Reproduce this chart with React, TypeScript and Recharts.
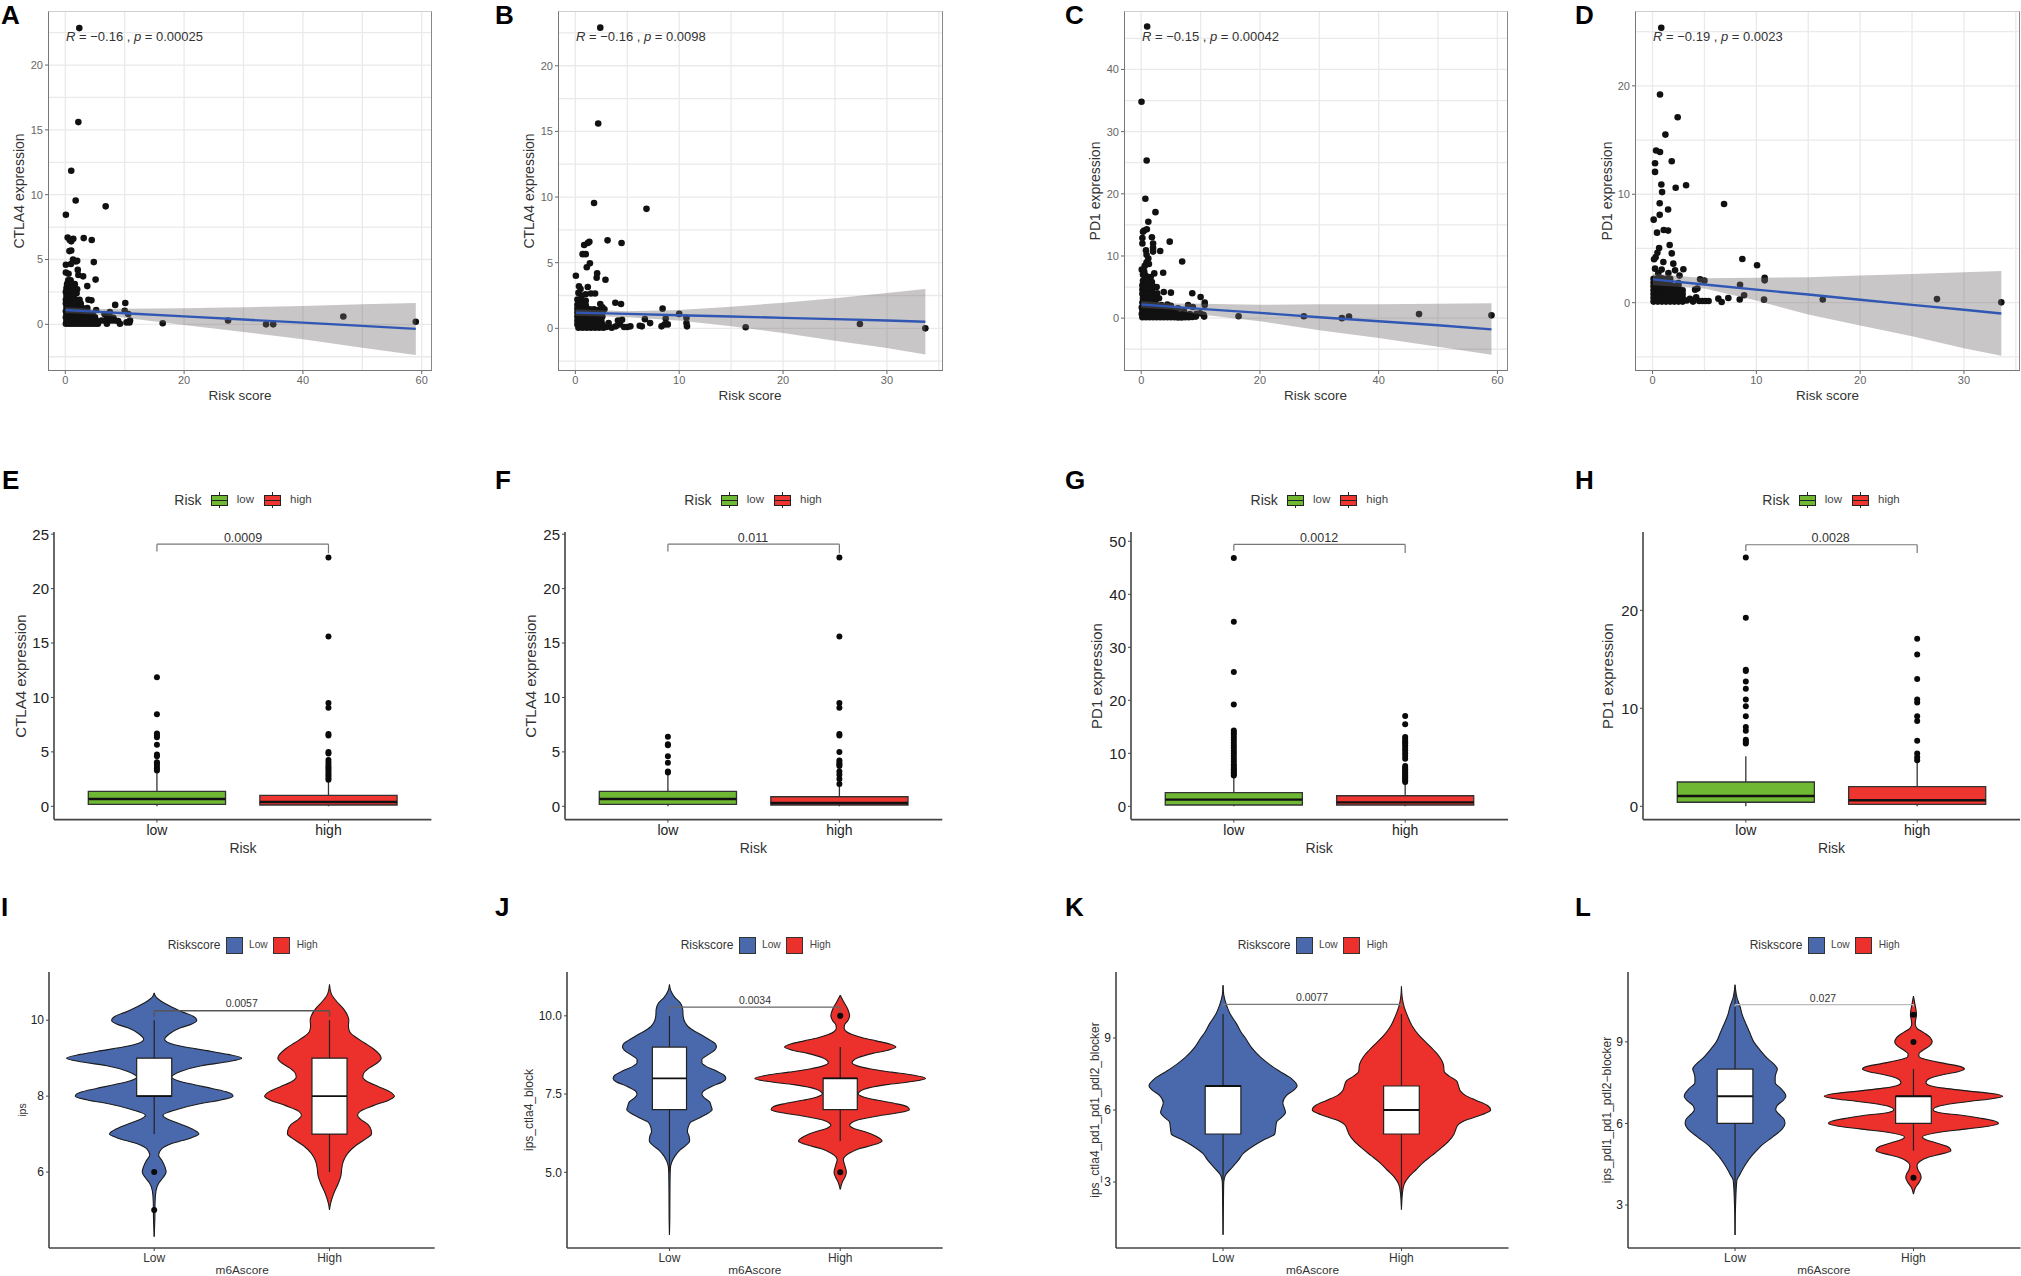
import React from 'react';
import {
  ComposedChart,
  CartesianGrid,
  XAxis,
  YAxis,
  Scatter,
  Area,
  Line,
  ReferenceArea,
  ReferenceLine,
} from 'recharts';

type Pair = [number, number];

const FONT = '"Liberation Sans", Arial, sans-serif';

// scatter values: [risk score, expression]
const pointsA: Pair[] = [
  [2.36, 22.85], [2.2, 15.6], [1, 11.85], [1.75, 9.55], [6.8, 9.1], [0.1, 8.45],
  [0.4, 6.7], [1, 6.4], [1.35, 6.6], [0.75, 6.5], [3.1, 6.65], [4.45, 6.5],
  [0.7, 5.65], [1, 5.7], [1.3, 5], [1.8, 4.85], [4.8, 4.8], [0.1, 4.6], [0.95, 4.65], [2, 4.9],
  [2.1, 4.2], [0.1, 4], [0.55, 3.9], [2.2, 3.8], [3, 3.7], [5.1, 3.45], [3.7, 2.95],
  [0.5, 3.4], [0.9, 3.4], [0.3, 3.1], [0.7, 3.1], [1.1, 3.1], [1.6, 3.1],
  [0.2, 2.8], [0.6, 2.8], [1, 2.8], [1.5, 2.8], [2, 2.7],
  [0.1, 2.5], [0.5, 2.5], [0.9, 2.5], [1.3, 2.5], [1.9, 2.4],
  [0.2, 2.2], [0.6, 2.2], [1, 2.2], [1.4, 2.2],
  [0.1, 1.9], [0.5, 1.9], [0.9, 1.9], [1.3, 1.9], [1.8, 1.9], [2.4, 1.9], [3.9, 1.9], [4.4, 1.85],
  [0.1, 1.6], [0.5, 1.6], [0.9, 1.6], [1.3, 1.6], [1.7, 1.6], [2.1, 1.6], [2.6, 1.6],
  [0.2, 1.3], [0.6, 1.3], [1, 1.3], [1.4, 1.3], [1.8, 1.3], [2.2, 1.3], [2.8, 1.3], [3.7, 1.25],
  [0.1, 1], [0.5, 1], [0.9, 1], [1.3, 1], [1.7, 1], [2.1, 1], [2.5, 1], [2.9, 1], [3.3, 1], [3.7, 1], [5.2, 1.1],
  [0.2, 0.8], [0.7, 0.8], [1.2, 0.8], [1.7, 0.8], [2.2, 0.8], [2.7, 0.8], [3.2, 0.8], [3.7, 0.8], [4.2, 0.8], [4.6, 0.8], [6.6, 0.8],
  [0.1, 0.55], [0.6, 0.55], [1.1, 0.55], [1.6, 0.55], [2.1, 0.55], [2.6, 0.55], [3.1, 0.55], [3.6, 0.55], [4.1, 0.55], [4.6, 0.55], [5, 0.55], [7.1, 0.55], [7.6, 0.55], [8.1, 0.5],
  [0.2, 0.3], [0.7, 0.3], [1.2, 0.3], [1.7, 0.3], [2.2, 0.3], [2.7, 0.3], [3.2, 0.3], [3.7, 0.3], [4.2, 0.3], [4.7, 0.3], [5.2, 0.3], [6.1, 0.3], [6.6, 0.3], [7.4, 0.3], [7.9, 0.3], [8.4, 0.3], [8.9, 0.25],
  [0.1, 0.05], [0.6, 0.05], [1.1, 0.05], [1.6, 0.05], [2.1, 0.05], [2.6, 0.05], [3.1, 0.05], [3.6, 0.05], [4.1, 0.05], [4.6, 0.05], [5.1, 0.05], [5.5, 0.05], [7, 0.05], [9.2, 0.05],
  [7.5, 0.95], [8.4, 1.5], [10.1, 1.65], [10, 1.05], [10.6, 0.8], [10.3, 0.15], [10.8, 0.15], [10.9, 0.3],
  [16.4, 0.08], [27.4, 0.3], [33.8, 0], [35, 0], [46.8, 0.6], [59, 0.2],
];

const pointsB: Pair[] = [
  [2.4, 22.9], [2.2, 15.6], [1.8, 9.55], [6.85, 9.1], [1.35, 6.6], [1.2, 6.5], [0.85, 6.35], [3.1, 6.7], [4.45, 6.5],
  [0.7, 5.65], [1, 5.65], [1.1, 4.65], [1.4, 4.95], [2.1, 4.2], [2.05, 3.85], [0.05, 4], [2.9, 3.7],
  [0.35, 3.2], [1.2, 3.15], [0.5, 3], [0.3, 2.7], [1, 2.6], [1.5, 2.65], [1.9, 2.65], [0.6, 2.5],
  [3.85, 1.95], [4.4, 1.85], [2.4, 1.85], [2.6, 1.6], [0.2, 2.2], [0.6, 2.2], [1, 2.1],
  [0.2, 1.8], [0.6, 1.8], [1, 1.75], [0.2, 1.5], [0.6, 1.5], [1, 1.5], [1.4, 1.45], [1.8, 1.45], [2.2, 1.4], [2.8, 1.45],
  [0.2, 1.2], [0.6, 1.2], [1, 1.2], [1.4, 1.2], [1.8, 1.2], [2.2, 1.2], [2.6, 1.2],
  [0.2, 0.9], [0.6, 0.9], [1, 0.9], [1.4, 0.9], [1.8, 0.9], [2.2, 0.9], [2.6, 0.9],
  [0.2, 0.6], [0.6, 0.6], [1, 0.6], [1.4, 0.6], [1.8, 0.6], [2.2, 0.6], [2.5, 0.6],
  [0.2, 0.3], [0.6, 0.3], [1, 0.3], [1.4, 0.3], [1.8, 0.3], [2.2, 0.3], [2.6, 0.3],
  [0.3, 0.05], [0.7, 0.05], [1.1, 0.05], [1.5, 0.05], [1.9, 0.05], [2.3, 0.05], [2.7, 0.05],
  [3, 0.1], [3.2, 0.4], [3.5, 0.05], [3.9, 0.15], [4.3, 0.3], [4.5, 0.65], [4.1, 0.6], [4.7, 0.1], [5, 0.1], [5.3, 0.15],
  [6.2, 0.2], [6.4, 0.15], [6.7, 0.7], [7.2, 0.4], [8.3, 0.15], [8.4, 1.5], [8.6, 0.3], [8.7, 0.75], [8.9, 0.3],
  [10, 1.1], [10.7, 0.4], [10.75, 0.15], [10.7, 0.8], [16.4, 0.08], [27.4, 0.33], [33.7, 0],
];

const pointsC: Pair[] = [
  [1, 46.9], [0.05, 34.8], [0.92, 25.36], [0.7, 19.2], [2.4, 17.05], [1.2, 15.5],
  [0.5, 14.1], [0.95, 14.3], [0.3, 13.9], [0.2, 12.9], [1.8, 13], [4.8, 12.3], [0.2, 12], [2, 12], [2, 11.3],
  [0.8, 10.9], [2, 10.7], [3.2, 10.8], [0.9, 10.2], [1.2, 9.6], [0.9, 9], [6.9, 9.1], [1.3, 8.7], [0.6, 8.4],
  [0.1, 7.8], [0.5, 7.5], [3.7, 7.3], [2.2, 7.2], [0.3, 7], [0.7, 6.9], [1.1, 6.6], [1.6, 6.6],
  [0.3, 6], [0.8, 6], [1.4, 6], [1.8, 5.8], [0.2, 5.3], [0.7, 5.2], [1.2, 5.3], [1.9, 5.2], [2.6, 5],
  [0.2, 4.6], [0.7, 4.5], [1.2, 4.6], [1.8, 4.5], [0.2, 3.9], [0.7, 3.8], [1.2, 3.9], [1.9, 3.9], [2.7, 4],
  [3.8, 4.2], [5, 4.1], [8.6, 4], [10, 3.4], [0.3, 3.2], [0.8, 3.2], [1.3, 3.2], [1.8, 3.2], [2.4, 3.1], [3, 3.2],
  [0.2, 2.5], [0.7, 2.6], [1.2, 2.6], [1.8, 2.6], [2.4, 2.5], [10.7, 2.5], [10.7, 2.1], [3.4, 2.1], [4.4, 2.2], [5, 2], [7.9, 2.1], [8.7, 1.8], [6.2, 1.6],
  [0.1, 1.7], [0.7, 1.7], [1.3, 1.7], [1.9, 1.7], [2.5, 1.7], [3.1, 1.7], [3.7, 1.6], [4.3, 1.55], [5.1, 1.5],
  [0.2, 1.15], [0.8, 1.15], [1.4, 1.15], [2, 1.15], [2.6, 1.15], [3.2, 1.15], [3.8, 1.15], [4.4, 1.1], [5, 1.1], [5.6, 1.05], [7.2, 1.15],
  [0.1, 0.65], [0.7, 0.65], [1.3, 0.65], [1.9, 0.65], [2.5, 0.65], [3.1, 0.65], [3.7, 0.65], [4.3, 0.65], [4.9, 0.65], [5.5, 0.65], [6.1, 0.6], [6.7, 0.6], [7.3, 0.6], [8.2, 0.65], [9.3, 0.7], [9.9, 0.8], [10.5, 0.55],
  [0.2, 0.15], [0.8, 0.15], [1.4, 0.15], [2, 0.15], [2.6, 0.15], [3.2, 0.15], [3.8, 0.15], [4.4, 0.15], [5, 0.15], [5.6, 0.15], [6.2, 0.1], [6.8, 0.1], [7.4, 0.15], [8, 0.15], [8.6, 0.2], [9.2, 0.25], [10.6, 0.25],
  [16.4, 0.3], [27.4, 0.3], [33.8, 0], [35, 0.25], [46.8, 0.65], [59, 0.45],
];

const pointsD: Pair[] = [
  [0.84, 25.36], [0.72, 19.2], [2.42, 17.1], [1.24, 15.5], [0.34, 14.03], [0.72, 13.9], [1.85, 13.05], [0.24, 12.86], [0.24, 12.06],
  [0.85, 10.9], [3.23, 10.83], [2.23, 10.6], [0.92, 10.2], [6.89, 9.1], [0.69, 9.17], [1.5, 8.6], [0.69, 8.1], [0.11, 7.66],
  [1.08, 6.7], [1.5, 6.65], [0.43, 6.46], [0.63, 5.05], [1.65, 5.32], [0.3, 4.2], [1.85, 4.55], [0.47, 4.6], [0.15, 4],
  [8.65, 4.03], [10.07, 3.45], [10.8, 2.3], [10.8, 2.06], [1.04, 3.75], [2, 3.6], [0.24, 3.14], [0.88, 3.05], [2.97, 3.08], [2.17, 2.98], [2.6, 2.5], [1.53, 2.74], [0.55, 2.7],
  [4.58, 2.15], [5, 2.03], [4.32, 1.3], [4.1, 1.2], [8.43, 1.66], [8.82, 0.68], [8.4, 0.3], [10.74, 0.28], [7.3, 0.43], [6.34, 0.37], [6.66, 0.06],
  [0.1, 2.2], [0.5, 2.2], [0.9, 2.25], [1.3, 2.2], [1.7, 2.2],
  [0.1, 1.85], [0.5, 1.85], [0.9, 1.85], [1.3, 1.85], [1.7, 1.85], [2.5, 1.8],
  [0.1, 1.5], [0.5, 1.5], [0.9, 1.5], [1.3, 1.5], [1.7, 1.5], [2.1, 1.5], [2.5, 1.5],
  [0.1, 1.15], [0.5, 1.15], [0.9, 1.15], [1.3, 1.15], [1.7, 1.15], [2.1, 1.15], [2.5, 1.15], [2.9, 1.15],
  [0.1, 0.8], [0.5, 0.8], [0.9, 0.8], [1.3, 0.8], [1.7, 0.8], [2.1, 0.8], [2.5, 0.8], [2.9, 0.8],
  [0.1, 0.45], [0.5, 0.45], [0.9, 0.45], [1.3, 0.45], [1.7, 0.45], [2.1, 0.45], [2.5, 0.45], [2.9, 0.45],
  [0.1, 0.1], [0.5, 0.1], [0.9, 0.1], [1.3, 0.1], [1.7, 0.1], [2.1, 0.1], [2.5, 0.1], [2.9, 0.1],
  [3.3, 0.2], [3.6, 0.35], [3.9, 0.1], [4.2, 0.5], [4.5, 0.15], [4.8, 0.15], [5.1, 0.15], [5.4, 0.15],
  [16.4, 0.3], [27.4, 0.33], [33.6, 0.03],
];

// smooth fit rows: [x, lower, upper, fit]
const fitA = [[0.04, 0.88, 1.32, 1.1], [5, 0.76, 1.19, 0.98], [10, 0.5, 1.2, 0.85], [20, -0.05, 1.25, 0.61], [30, -0.6, 1.32, 0.37], [40, -1.15, 1.42, 0.13], [50, -1.8, 1.55, -0.12], [59, -2.36, 1.65, -0.35]];
const fitB = [[0.04, 0.95, 1.45, 1.2], [5, 0.85, 1.3, 1.1], [10, 0.6, 1.4, 1], [15, 0.15, 1.65, 0.9], [20, -0.35, 1.95, 0.8], [25, -0.95, 2.3, 0.7], [30, -1.5, 2.7, 0.6], [33.7, -2, 3, 0.5]];
const fitC = [[0.04, 1.65, 2.75, 2.2], [5, 1.4, 2.35, 1.85], [10, 0.6, 2.3, 1.5], [20, -0.5, 2.15, 0.85], [30, -1.95, 2.25, 0.15], [40, -3.2, 2.25, -0.5], [50, -4.6, 2.3, -1.15], [59, -5.9, 2.4, -1.8]];
const fitD = [[0.04, 1.6, 2.7, 2.15], [5, 1.3, 2.25, 1.68], [10, 0.2, 2.3, 1.2], [15, -1.1, 2.35, 0.75], [20, -2.1, 2.5, 0.27], [25, -3.1, 2.65, -0.2], [30, -4.2, 2.8, -0.65], [33.6, -4.9, 2.92, -1]];

// box plot summaries
const boxE = [{ x: 1, q1: 0.18, med: 0.67, q3: 1.38, lo: 0, hi: 3.2 }, { x: 2, q1: 0.12, med: 0.4, q3: 1, lo: 0, hi: 2.4 }];
const boxF = [{ x: 1, q1: 0.18, med: 0.67, q3: 1.38, lo: 0, hi: 3 }, { x: 2, q1: 0.12, med: 0.3, q3: 0.88, lo: 0, hi: 2 }];
const boxG = [{ x: 1, q1: 0.25, med: 1.26, q3: 2.58, lo: 0, hi: 5.5 }, { x: 2, q1: 0.25, med: 0.75, q3: 2, lo: 0, hi: 4.4 }];
const boxH = [{ x: 1, q1: 0.41, med: 1.05, q3: 2.48, lo: 0, hi: 5.1 }, { x: 2, q1: 0.2, med: 0.61, q3: 2, lo: 0, hi: 4.9 }];

const outE = [
  [11.85, 8.45, 6.7, 6.5, 6.35, 5.65, 4.75, 4.6, 4.05, 3.9, 3.7, 3.5, 3.3],
  [22.85, 15.6, 9.5, 9.05, 6.65, 6.5, 5, 4.85, 4.25, 4, 3.8, 3.6, 3.4, 3.2, 3, 2.8, 2.6, 2.45],
];
const outF = [
  [6.4, 5.7, 5.6, 4.6, 4, 3.2, 3.1],
  [22.85, 15.6, 9.5, 9.05, 6.65, 6.5, 5, 4.2, 4, 3.85, 3.7, 3.2, 2.9, 2.5, 2.05],
];
const outG = [
  [46.85, 34.8, 25.35, 19.2, 14.3, 13.9, 13.5, 13, 12.5, 12, 11.5, 11, 10.5, 10, 9.5, 9, 8.5, 8, 7.7, 7.3, 7, 6.7, 6.4, 6.1, 5.8],
  [17.05, 15.5, 13.1, 12.7, 12.3, 11.9, 11.5, 11, 10.6, 10, 9.5, 9, 7.6, 7.3, 7, 6.7, 6.4, 6.1, 5.8, 5.5, 5.2, 4.9, 4.6],
];
const outH = [
  [25.4, 19.25, 13.95, 13.8, 12.75, 12, 10.9, 10.2, 9.2, 8.1, 7.7, 6.8, 6.6, 6.4],
  [17.1, 15.5, 13, 10.9, 10.6, 9.2, 8.7, 6.7, 5.4, 5, 4.7],
];

// violin outlines: [value, half width on the group axis]
const violinILow: Pair[] = [[10.72, 0], [10.6, 0.012], [10.5, 0.04], [10.35, 0.1], [10.2, 0.17], [10.1, 0.225], [10, 0.243], [9.9, 0.215], [9.8, 0.15], [9.65, 0.09], [9.5, 0.06], [9.4, 0.085], [9.3, 0.17], [9.2, 0.3], [9.1, 0.42], [9, 0.5], [8.9, 0.41], [8.8, 0.27], [8.65, 0.15], [8.5, 0.1], [8.4, 0.14], [8.3, 0.23], [8.2, 0.33], [8.1, 0.42], [8, 0.45], [7.9, 0.38], [7.8, 0.26], [7.65, 0.13], [7.5, 0.05], [7.4, 0.075], [7.3, 0.13], [7.15, 0.21], [7, 0.255], [6.9, 0.21], [6.75, 0.1], [6.6, 0.04], [6.45, 0.025], [6.3, 0.045], [6.15, 0.06], [6, 0.068], [5.85, 0.05], [5.7, 0.025], [5.5, 0.01], [5.2, 0.005], [4.8, 0.004], [4.3, 0]];
const violinIHigh: Pair[] = [[10.94, 0], [10.7, 0.01], [10.5, 0.04], [10.3, 0.08], [10.1, 0.105], [10, 0.11], [9.85, 0.108], [9.7, 0.115], [9.55, 0.15], [9.4, 0.2], [9.25, 0.25], [9.1, 0.285], [9, 0.295], [8.9, 0.28], [8.75, 0.23], [8.6, 0.195], [8.5, 0.19], [8.4, 0.21], [8.25, 0.28], [8.1, 0.35], [8, 0.37], [7.9, 0.34], [7.75, 0.25], [7.6, 0.175], [7.5, 0.16], [7.4, 0.175], [7.25, 0.22], [7.1, 0.238], [7, 0.24], [6.9, 0.215], [6.7, 0.15], [6.5, 0.105], [6.3, 0.08], [6.1, 0.07], [5.9, 0.065], [5.7, 0.05], [5.5, 0.03], [5.3, 0.014], [5.15, 0.005], [5, 0]];
const violinJLow: Pair[] = [[11, 0], [10.8, 0.008], [10.6, 0.03], [10.4, 0.065], [10.2, 0.078], [10, 0.08], [9.8, 0.09], [9.65, 0.11], [9.5, 0.15], [9.35, 0.2], [9.2, 0.245], [9.1, 0.27], [9, 0.275], [8.9, 0.265], [8.75, 0.225], [8.6, 0.19], [8.5, 0.19], [8.4, 0.21], [8.25, 0.27], [8.1, 0.32], [8, 0.33], [7.9, 0.315], [7.75, 0.25], [7.6, 0.2], [7.5, 0.19], [7.4, 0.2], [7.25, 0.235], [7.1, 0.245], [7, 0.25], [6.9, 0.23], [6.75, 0.18], [6.6, 0.125], [6.45, 0.11], [6.3, 0.105], [6.15, 0.115], [6, 0.118], [5.85, 0.095], [5.7, 0.06], [5.5, 0.03], [5.3, 0.012], [5.1, 0.005], [4.5, 0.003], [3.5, 0.002], [3, 0]];
const violinJHigh: Pair[] = [[10.66, 0], [10.45, 0.02], [10.2, 0.045], [10, 0.055], [9.85, 0.045], [9.7, 0.025], [9.6, 0.023], [9.5, 0.035], [9.4, 0.07], [9.3, 0.13], [9.2, 0.21], [9.1, 0.29], [9, 0.326], [8.9, 0.28], [8.8, 0.19], [8.65, 0.1], [8.5, 0.07], [8.4, 0.1], [8.3, 0.18], [8.2, 0.3], [8.1, 0.43], [8, 0.5], [7.9, 0.42], [7.8, 0.27], [7.65, 0.14], [7.5, 0.105], [7.4, 0.14], [7.3, 0.22], [7.2, 0.32], [7.1, 0.39], [7, 0.405], [6.9, 0.34], [6.8, 0.22], [6.65, 0.09], [6.5, 0.055], [6.4, 0.08], [6.3, 0.14], [6.15, 0.21], [6, 0.245], [5.9, 0.21], [5.75, 0.11], [5.6, 0.05], [5.4, 0.018], [5.25, 0.025], [5.1, 0.033], [5, 0.036], [4.85, 0.028], [4.7, 0.013], [4.45, 0]];
const violinKLow: Pair[] = [[11.2, 0], [10.8, 0.004], [10.4, 0.018], [10, 0.04], [9.6, 0.075], [9.2, 0.105], [9, 0.125], [8.6, 0.16], [8.2, 0.21], [7.9, 0.26], [7.6, 0.32], [7.3, 0.385], [7.1, 0.41], [7, 0.415], [6.85, 0.4], [6.6, 0.355], [6.3, 0.335], [6.05, 0.345], [5.9, 0.35], [5.7, 0.33], [5.5, 0.3], [5.25, 0.295], [5, 0.29], [4.8, 0.24], [4.5, 0.17], [4.2, 0.115], [3.9, 0.085], [3.6, 0.05], [3.3, 0.015], [3, 0.004], [2, 0.002], [0.8, 0]];
const violinKHigh: Pair[] = [[11.15, 0], [10.7, 0.004], [10.3, 0.015], [9.9, 0.035], [9.5, 0.06], [9.1, 0.1], [8.8, 0.14], [8.5, 0.18], [8.2, 0.215], [7.9, 0.235], [7.6, 0.24], [7.4, 0.27], [7.2, 0.31], [7, 0.32], [6.8, 0.33], [6.6, 0.36], [6.4, 0.42], [6.2, 0.48], [6, 0.5], [5.8, 0.45], [5.6, 0.37], [5.4, 0.32], [5.2, 0.305], [5, 0.295], [4.7, 0.265], [4.4, 0.22], [4.1, 0.17], [3.8, 0.12], [3.5, 0.08], [3.2, 0.04], [2.9, 0.015], [2.5, 0.005], [1.85, 0]];
const violinLLow: Pair[] = [[11.1, 0], [10.6, 0.012], [10.3, 0.028], [10, 0.04], [9.6, 0.065], [9.3, 0.085], [9, 0.105], [8.7, 0.14], [8.4, 0.18], [8.2, 0.215], [8, 0.237], [7.85, 0.23], [7.7, 0.225], [7.5, 0.225], [7.3, 0.255], [7.1, 0.28], [7, 0.285], [6.85, 0.27], [6.65, 0.235], [6.5, 0.228], [6.35, 0.245], [6.15, 0.275], [6, 0.28], [5.8, 0.265], [5.5, 0.21], [5.2, 0.15], [5, 0.12], [4.7, 0.08], [4.4, 0.05], [4.1, 0.025], [3.9, 0.01], [3, 0.003], [1.9, 0]];
const violinLHigh: Pair[] = [[10.68, 0], [10.4, 0.008], [10.1, 0.016], [10, 0.017], [9.8, 0.012], [9.65, 0.01], [9.5, 0.02], [9.35, 0.055], [9.15, 0.095], [9, 0.105], [8.85, 0.09], [8.7, 0.055], [8.55, 0.03], [8.45, 0.032], [8.35, 0.07], [8.2, 0.18], [8.1, 0.26], [8, 0.286], [7.9, 0.25], [7.8, 0.17], [7.65, 0.09], [7.5, 0.07], [7.4, 0.09], [7.3, 0.17], [7.2, 0.3], [7.1, 0.44], [7, 0.5], [6.9, 0.43], [6.8, 0.3], [6.65, 0.15], [6.5, 0.11], [6.4, 0.14], [6.3, 0.27], [6.2, 0.37], [6.1, 0.45], [6, 0.477], [5.9, 0.42], [5.8, 0.3], [5.65, 0.12], [5.5, 0.05], [5.4, 0.07], [5.3, 0.12], [5.15, 0.19], [5, 0.21], [4.9, 0.17], [4.75, 0.08], [4.6, 0.035], [4.45, 0.02], [4.3, 0.025], [4.15, 0.038], [4, 0.043], [3.85, 0.033], [3.65, 0.012], [3.4, 0]];

const ticksRisk60 = [0, 20, 40, 60];
const ticksRisk30 = [0, 10, 20, 30];
const gridRisk60 = [0, 10, 20, 30, 40, 50, 60];
const gridRisk30 = [0, 5, 10, 15, 20, 25, 30, 35];

function Txt({ x, y, size, rot, color = '#333', weight, align = 'center', style, children }: any) {
  const shift = align === 'left' ? 'translate(0,-50%)' : 'translate(-50%,-50%)';
  return (
    <div
      style={{
        position: 'absolute',
        left: x,
        top: y,
        fontSize: size,
        fontFamily: FONT,
        color,
        fontWeight: weight,
        whiteSpace: 'nowrap',
        lineHeight: 1.2,
        transform: rot ? `${shift} rotate(${rot}deg)` : shift,
        ...style,
      }}
    >
      {children}
    </div>
  );
}

function Dot({ cx, cy }: any) {
  return <circle cx={cx} cy={cy} r={3.3} fill="#111" />;
}

function SmallDot({ cx, cy }: any) {
  return <circle cx={cx} cy={cy} r={3} fill="#0a0a0a" />;
}

const W_AXIS = 44;
const H_AXIS = 34;

function ScatterPanel({ plot, xDomain, yDomain, xTicks, yTicks, xGrid, yGrid, points, fit, yLabel, stats, letter, letterX, labelX, titleX }: any) {
  const [L, T, R, B] = plot;
  const rows = points.map(([x, y]: Pair) => ({ x, y }));
  const ribbon = fit.map((f: number[]) => ({ x: f[0], band: [f[1], f[2]], fit: f[3] }));
  return (
    <>
      <div style={{ position: 'absolute', left: L - W_AXIS, top: T - 6 }}>
        <ComposedChart
          width={R - L + W_AXIS + 1}
          height={B - T + 6 + H_AXIS}
          margin={{ top: 6, right: 1, left: 0, bottom: 0 }}
        >
          <CartesianGrid stroke="#ece9e9" strokeWidth={1.3} verticalValues={xGrid} horizontalValues={yGrid} />
          <XAxis
            type="number"
            dataKey="x"
            domain={xDomain}
            ticks={xTicks}
            interval={0}
            allowDataOverflow
            height={H_AXIS}
            axisLine={false}
            tick={{ fontSize: 11, fill: '#666', fontFamily: FONT }}
            tickLine={{ stroke: '#666' }}
            tickSize={3}
          />
          <YAxis
            type="number"
            dataKey="y"
            domain={yDomain}
            ticks={yTicks}
            interval={0}
            allowDataOverflow
            width={W_AXIS}
            axisLine={false}
            tick={{ fontSize: 11, fill: '#666', fontFamily: FONT }}
            tickLine={{ stroke: '#666' }}
            tickSize={3}
          />
          <Scatter data={rows} isAnimationActive={false} shape={Dot} />
          <Area
            data={ribbon}
            dataKey="band"
            type="linear"
            stroke="none"
            fill="#6f6a6a"
            fillOpacity={0.38}
            isAnimationActive={false}
            dot={false}
            activeDot={false}
            zIndex={700}
          />
          <Line
            data={ribbon}
            dataKey="fit"
            type="linear"
            stroke="#3157b5"
            strokeWidth={2.4}
            dot={false}
            activeDot={false}
            isAnimationActive={false}
            zIndex={710}
          />
        </ComposedChart>
      </div>
      <div
        style={{
          position: 'absolute',
          left: L,
          top: T,
          width: R - L,
          height: B - T,
          boxSizing: 'border-box',
          borderLeft: '1.5px solid #777',
          borderBottom: '1.5px solid #777',
          borderRight: '1.5px solid #888',
          borderTop: '1.5px solid #d2cece',
        }}
      />
      <Txt x={L + 18} y={37} size={13} align="left" color="#333">
        {stats}
      </Txt>
      <Txt x={titleX} y={396} size={13.5} color="#333">Risk score</Txt>
      <Txt x={labelX} y={191} size={14} rot={-90} color="#333">{yLabel}</Txt>
      <Txt x={letterX} y={16} size={26} weight="bold" align="left" color="#000">{letter}</Txt>
    </>
  );
}

function BoxKey({ x, fill }: any) {
  return (
    <>
      <div style={{ position: 'absolute', left: x + 8, top: 492, width: 1, height: 16, background: '#222' }} />
      <div style={{ position: 'absolute', left: x, top: 494.5, width: 17, height: 11, boxSizing: 'border-box', background: fill, border: '1.3px solid #222' }} />
      <div style={{ position: 'absolute', left: x + 1, top: 499.5, width: 15, height: 1.2, background: '#222' }} />
    </>
  );
}

function BoxPanel({ plot, yDomain, yTicks, boxes, outliers, bracket, pValue, yLabel, letter, letterX, labelX, legendDx, pX }: any) {
  const [L, T, R, B] = plot;
  const fills = ['#6fb833', '#ee3530'];
  const dots = outliers.flatMap((vals: number[], i: number) => vals.map((y) => ({ x: i + 1, y })));
  return (
    <>
      <div style={{ position: 'absolute', left: L - W_AXIS, top: T - 6 }}>
        <ComposedChart
          width={R - L + W_AXIS + 1}
          height={B - T + 6 + H_AXIS}
          margin={{ top: 6, right: 1, left: 0, bottom: 0 }}
        >
          <XAxis
            type="number"
            dataKey="x"
            domain={[0.4, 2.6]}
            ticks={[1, 2]}
            interval={0}
            allowDataOverflow
            tickFormatter={(v: number) => (v === 1 ? 'low' : 'high')}
            height={H_AXIS}
            axisLine={{ stroke: '#444', strokeWidth: 1.6 }}
            tick={{ fontSize: 14, fill: '#222', fontFamily: FONT }}
            tickLine={{ stroke: '#444' }}
            tickSize={3}
          />
          <YAxis
            type="number"
            dataKey="y"
            domain={yDomain}
            ticks={yTicks}
            interval={0}
            allowDataOverflow
            width={W_AXIS}
            axisLine={{ stroke: '#444', strokeWidth: 1.6 }}
            tick={{ fontSize: 15, fill: '#222', fontFamily: FONT }}
            tickLine={{ stroke: '#444' }}
            tickSize={3}
          />
          {boxes.map((b: any, i: number) => (
            <ReferenceLine key={`wu${i}`} segment={[{ x: b.x, y: b.q3 }, { x: b.x, y: b.hi }]} stroke="#333" strokeWidth={1.3} />
          ))}
          {boxes.map((b: any, i: number) => (
            <ReferenceLine key={`wl${i}`} segment={[{ x: b.x, y: b.lo }, { x: b.x, y: b.q1 }]} stroke="#333" strokeWidth={1.3} />
          ))}
          {boxes.map((b: any, i: number) => (
            <ReferenceArea key={`b${i}`} x1={b.x - 0.4} x2={b.x + 0.4} y1={b.q1} y2={b.q3} fill={fills[i]} fillOpacity={1} stroke="#333" strokeWidth={1.3} />
          ))}
          {boxes.map((b: any, i: number) => (
            <ReferenceLine key={`m${i}`} segment={[{ x: b.x - 0.4, y: b.med }, { x: b.x + 0.4, y: b.med }]} stroke="#111" strokeWidth={2.4} />
          ))}
          <ReferenceLine segment={[{ x: 1, y: bracket[1] }, { x: 1, y: bracket[0] }]} stroke="#777" strokeWidth={1.2} />
          <ReferenceLine segment={[{ x: 1, y: bracket[0] }, { x: 2, y: bracket[0] }]} stroke="#777" strokeWidth={1.2} />
          <ReferenceLine segment={[{ x: 2, y: bracket[0] }, { x: 2, y: bracket[2] }]} stroke="#777" strokeWidth={1.2} />
          <Scatter data={dots} isAnimationActive={false} shape={SmallDot} />
        </ComposedChart>
      </div>
      <Txt x={pX} y={537.7} size={12.5} color="#333">{pValue}</Txt>
      <Txt x={(L + R) / 2} y={848} size={14} color="#333">Risk</Txt>
      <Txt x={labelX} y={676} size={15} rot={-90} color="#333">{yLabel}</Txt>
      <Txt x={letterX} y={481} size={26} weight="bold" align="left" color="#000">{letter}</Txt>
      <Txt x={174.3 + legendDx} y={500} size={14} align="left" color="#333">Risk</Txt>
      <BoxKey x={211 + legendDx} fill={fills[0]} />
      <Txt x={236.7 + legendDx} y={500} size={11.5} align="left" color="#444">low</Txt>
      <BoxKey x={264 + legendDx} fill={fills[1]} />
      <Txt x={290 + legendDx} y={500} size={11.5} align="left" color="#444">high</Txt>
    </>
  );
}

function ViolinPanel({ plot, yDomain, yTicks, yTickFmt, low, high, boxes, outliers, bracket, pValue, pX, pY, yLabel, letter, letterX, labelX, legendDx, bracketColor }: any) {
  const [L, T, R, B] = plot;
  const toRows = (outline: Pair[], center: number) =>
    outline.map(([y, w]) => ({ y, range: [center - w, center + w] }));
  const dots = outliers.map(([x, y]: Pair) => ({ x, y }));
  const blue = '#4a69ad';
  const red = '#ec302c';
  return (
    <>
      <div style={{ position: 'absolute', left: L - W_AXIS, top: T - 6 }}>
        <ComposedChart
          layout="vertical"
          width={R - L + W_AXIS + 1}
          height={B - T + 6 + H_AXIS}
          margin={{ top: 6, right: 1, left: 0, bottom: 0 }}
        >
          <XAxis
            type="number"
            dataKey="x"
            domain={[0.4, 2.6]}
            ticks={[1, 2]}
            interval={0}
            allowDataOverflow
            tickFormatter={(v: number) => (v === 1 ? 'Low' : 'High')}
            height={H_AXIS}
            axisLine={{ stroke: '#444', strokeWidth: 1.6 }}
            tick={{ fontSize: 12, fill: '#333', fontFamily: FONT }}
            tickLine={{ stroke: '#444' }}
            tickSize={3}
          />
          <YAxis
            type="number"
            dataKey="y"
            domain={yDomain}
            ticks={yTicks}
            interval={0}
            reversed
            allowDataOverflow
            tickFormatter={yTickFmt}
            width={W_AXIS}
            axisLine={{ stroke: '#444', strokeWidth: 1.6 }}
            tick={{ fontSize: 12, fill: '#222', fontFamily: FONT }}
            tickLine={{ stroke: '#444' }}
            tickSize={3}
          />
          <Area data={toRows(low, 1)} dataKey="range" type="monotone" stroke="#1a1a1a" strokeWidth={1.1} fill={blue} fillOpacity={1} isAnimationActive={false} dot={false} activeDot={false} />
          <Area data={toRows(high, 2)} dataKey="range" type="monotone" stroke="#1a1a1a" strokeWidth={1.1} fill={red} fillOpacity={1} isAnimationActive={false} dot={false} activeDot={false} />
          {boxes.map((b: any, i: number) => (
            <ReferenceLine key={`wu${i}`} segment={[{ x: b.x, y: b.q3 }, { x: b.x, y: b.hi }]} stroke="#222" strokeWidth={1.2} zIndex={150} />
          ))}
          {boxes.map((b: any, i: number) => (
            <ReferenceLine key={`wl${i}`} segment={[{ x: b.x, y: b.lo }, { x: b.x, y: b.q1 }]} stroke="#222" strokeWidth={1.2} zIndex={150} />
          ))}
          {boxes.map((b: any, i: number) => (
            <ReferenceArea key={`b${i}`} x1={b.x - 0.1} x2={b.x + 0.1} y1={b.q1} y2={b.q3} fill="#fff" fillOpacity={1} stroke="#222" strokeWidth={1.2} zIndex={160} />
          ))}
          {boxes.map((b: any, i: number) => (
            <ReferenceLine key={`m${i}`} segment={[{ x: b.x - 0.1, y: b.med }, { x: b.x + 0.1, y: b.med }]} stroke="#111" strokeWidth={1.8} zIndex={170} />
          ))}
          <ReferenceLine segment={[{ x: 1, y: bracket[1] }, { x: 1, y: bracket[0] }]} stroke={bracketColor} strokeWidth={1.3} zIndex={180} />
          <ReferenceLine segment={[{ x: 1, y: bracket[0] }, { x: 2, y: bracket[0] }]} stroke={bracketColor} strokeWidth={1.3} zIndex={180} />
          <ReferenceLine segment={[{ x: 2, y: bracket[0] }, { x: 2, y: bracket[1] }]} stroke={bracketColor} strokeWidth={1.3} zIndex={180} />
          <Scatter data={dots} isAnimationActive={false} shape={SmallDot} />
        </ComposedChart>
      </div>
      <Txt x={pX} y={pY} size={10.5} color="#333">{pValue}</Txt>
      <Txt x={(L + R) / 2} y={1270} size={11.8} color="#333">m6Ascore</Txt>
      <Txt x={labelX} y={1110} size={yLabel.length > 5 ? 12 : 10.5} rot={-90} color="#333">{yLabel}</Txt>
      <Txt x={letterX} y={908} size={26} weight="bold" align="left" color="#000">{letter}</Txt>
      <Txt x={167.7 + legendDx} y={945} size={12} align="left" color="#333">Riskscore</Txt>
      <div style={{ position: 'absolute', left: 226.3 + legendDx, top: 936.7, width: 17, height: 17, boxSizing: 'border-box', background: blue, border: '1.2px solid #333' }} />
      <Txt x={249 + legendDx} y={945} size={10.2} align="left" color="#444">Low</Txt>
      <div style={{ position: 'absolute', left: 273.3 + legendDx, top: 936.7, width: 17, height: 17, boxSizing: 'border-box', background: red, border: '1.2px solid #333' }} />
      <Txt x={296.7 + legendDx} y={945} size={10.2} align="left" color="#444">High</Txt>
    </>
  );
}

function Stats({ r, p }: any) {
  return (
    <>
      <i>R</i> = {r} , <i>p</i> = {p}
    </>
  );
}

export default function App() {
  return (
    <div style={{ position: 'absolute', left: 0, top: 0, width: 2021, height: 1276, overflow: 'hidden', background: '#fff' }}>
      <ScatterPanel
        plot={[48, 11, 432, 371]}
        xDomain={[-2.91, 61.73]}
        yDomain={[-3.6, 24.17]}
        xTicks={ticksRisk60}
        yTicks={[0, 5, 10, 15, 20]}
        xGrid={gridRisk60}
        yGrid={[-2.5, 0, 2.5, 5, 7.5, 10, 12.5, 15, 17.5, 20, 22.5]}
        points={pointsA}
        fit={fitA}
        yLabel="CTLA4 expression"
        stats={<Stats r="−0.16" p="0.00025" />}
        letter="A"
        letterX={1}
        labelX={19}
        titleX={240}
      />
      <ScatterPanel
        plot={[558, 11, 943, 371]}
        xDomain={[-1.67, 35.4]}
        yDomain={[-3.25, 24.17]}
        xTicks={ticksRisk30}
        yTicks={[0, 5, 10, 15, 20]}
        xGrid={gridRisk30}
        yGrid={[-2.5, 0, 2.5, 5, 7.5, 10, 12.5, 15, 17.5, 20, 22.5]}
        points={pointsB}
        fit={fitB}
        yLabel="CTLA4 expression"
        stats={<Stats r="−0.16" p="0.0098" />}
        letter="B"
        letterX={495}
        labelX={529}
        titleX={750}
      />
      <ScatterPanel
        plot={[1124, 11, 1507.5, 371]}
        xDomain={[-2.9, 61.7]}
        yDomain={[-8.5, 49.4]}
        xTicks={ticksRisk60}
        yTicks={[0, 10, 20, 30, 40]}
        xGrid={gridRisk60}
        yGrid={[-5, 0, 5, 10, 15, 20, 25, 30, 35, 40, 45]}
        points={pointsC}
        fit={fitC}
        yLabel="PD1 expression"
        stats={<Stats r="−0.15" p="0.00042" />}
        letter="C"
        letterX={1065}
        labelX={1095}
        titleX={1315.6}
      />
      <ScatterPanel
        plot={[1635, 11, 2020, 371]}
        xDomain={[-1.69, 35.4]}
        yDomain={[-6.3, 26.9]}
        xTicks={ticksRisk30}
        yTicks={[0, 10, 20]}
        xGrid={gridRisk30}
        yGrid={[-5, 0, 5, 10, 15, 20, 25]}
        points={pointsD}
        fit={fitD}
        yLabel="PD1 expression"
        stats={<Stats r="−0.19" p="0.0023" />}
        letter="D"
        letterX={1575}
        labelX={1607}
        titleX={1827.5}
      />

      <BoxPanel
        plot={[54.3, 531.7, 431.7, 819.3]}
        yDomain={[-1.22, 25.2]}
        yTicks={[0, 5, 10, 15, 20, 25]}
        boxes={boxE}
        outliers={outE}
        bracket={[24.08, 23.4, 23.25]}
        pValue="0.0009"
        pX={243}
        yLabel="CTLA4 expression"
        letter="E"
        letterX={2}
        labelX={20.7}
        legendDx={0}
      />
      <BoxPanel
        plot={[564.7, 531.7, 942, 819.3]}
        yDomain={[-1.22, 25.2]}
        yTicks={[0, 5, 10, 15, 20, 25]}
        boxes={boxF}
        outliers={outF}
        bracket={[24.08, 23.4, 23.25]}
        pValue="0.011"
        pX={753}
        yLabel="CTLA4 expression"
        letter="F"
        letterX={495}
        labelX={530.7}
        legendDx={510}
      />
      <BoxPanel
        plot={[1130.7, 531.7, 1507.7, 819.3]}
        yDomain={[-2.5, 51.75]}
        yTicks={[0, 10, 20, 30, 40, 50]}
        boxes={boxG}
        outliers={outG}
        bracket={[49.4, 48.2, 47.8]}
        pValue="0.0012"
        pX={1319}
        yLabel="PD1 expression"
        letter="G"
        letterX={1065}
        labelX={1096.7}
        legendDx={1076.3}
      />
      <BoxPanel
        plot={[1643, 531.7, 2020, 819.3]}
        yDomain={[-1.36, 28]}
        yTicks={[0, 10, 20]}
        boxes={boxH}
        outliers={outH}
        bracket={[26.7, 26.05, 25.85]}
        pValue="0.0028"
        pX={1830.7}
        yLabel="PD1 expression"
        letter="H"
        letterX={1575}
        labelX={1608}
        legendDx={1588}
      />

      <ViolinPanel
        plot={[49.3, 971.7, 435, 1247.7]}
        yDomain={[4, 11.27]}
        yTicks={[6, 8, 10]}
        low={violinILow}
        high={violinIHigh}
        boxes={[{ x: 1, q1: 8, med: 8, q3: 9, lo: 7, hi: 10 }, { x: 2, q1: 7, med: 8, q3: 9, lo: 6, hi: 10 }]}
        outliers={[[1, 6], [1, 5]]}
        bracket={[10.25, 10.09]}
        bracketColor="#555"
        pValue="0.0057"
        pX={241.7}
        pY={1003}
        yLabel="ips"
        letter="I"
        letterX={1}
        labelX={21.7}
        legendDx={0}
      />
      <ViolinPanel
        plot={[567, 971.7, 942.7, 1247.7]}
        yDomain={[2.58, 11.4]}
        yTicks={[5, 7.5, 10]}
        yTickFmt={(v: number) => v.toFixed(1)}
        low={violinJLow}
        high={violinJHigh}
        boxes={[{ x: 1, q1: 7, med: 8, q3: 9, lo: 5, hi: 10 }, { x: 2, q1: 7, med: 8, q3: 8, lo: 6, hi: 9 }]}
        outliers={[[2, 10], [2, 5]]}
        bracket={[10.28, 10.07]}
        bracketColor="#666"
        pValue="0.0034"
        pX={755}
        pY={1000}
        yLabel="ips_ctla4_block"
        letter="J"
        letterX={495}
        labelX={529}
        legendDx={513}
      />
      <ViolinPanel
        plot={[1116.25, 971.7, 1508.75, 1247.7]}
        yDomain={[0.25, 11.75]}
        yTicks={[3, 6, 9]}
        low={violinKLow}
        high={violinKHigh}
        boxes={[{ x: 1, q1: 5, med: 7, q3: 7, lo: 2, hi: 10 }, { x: 2, q1: 5, med: 6, q3: 7, lo: 2, hi: 10 }]}
        outliers={[]}
        bracket={[10.4, 10.3]}
        bracketColor="#777"
        pValue="0.0077"
        pX={1312}
        pY={997}
        yLabel="ips_ctla4_pd1_pd1_pdl2_blocker"
        letter="K"
        letterX={1065}
        labelX={1095}
        legendDx={1070}
      />
      <ViolinPanel
        plot={[1627.5, 971.7, 2020, 1247.7]}
        yDomain={[1.42, 11.57]}
        yTicks={[3, 6, 9]}
        low={violinLLow}
        high={violinLHigh}
        boxes={[{ x: 1, q1: 6, med: 7, q3: 8, lo: 3, hi: 11 }, { x: 2, q1: 6, med: 7, q3: 7, lo: 5, hi: 8 }]}
        outliers={[[2, 10], [2, 9], [2, 4]]}
        bracket={[10.37, 10.3]}
        bracketColor="#bbb"
        pValue="0.027"
        pX={1823}
        pY={998}
        yLabel="ips_pdl1_pd1_pdl2−blocker"
        letter="L"
        letterX={1575}
        labelX={1607}
        legendDx={1582}
      />
    </div>
  );
}
